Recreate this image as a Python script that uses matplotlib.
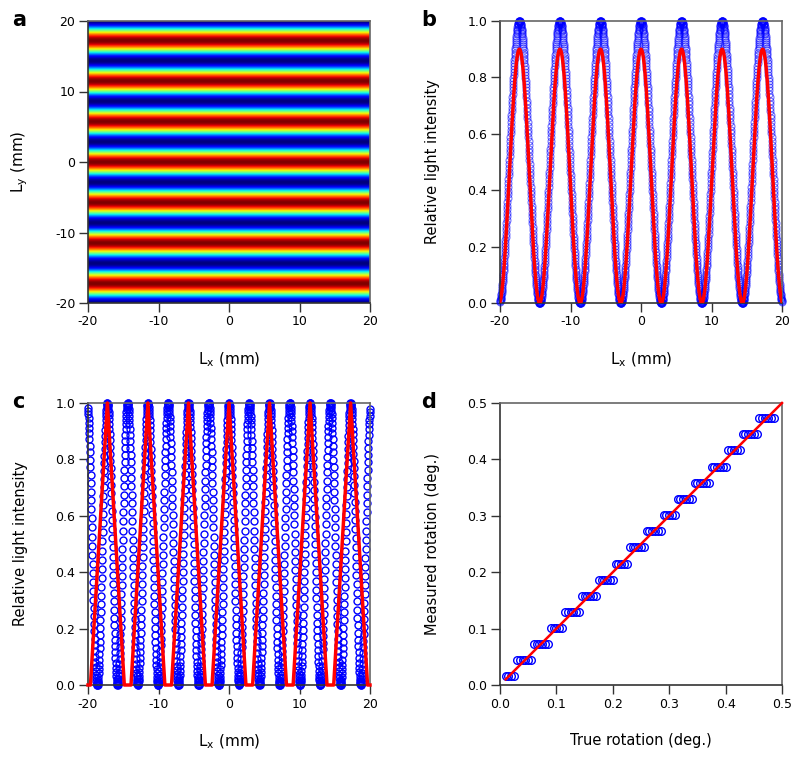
import numpy as np
import matplotlib
matplotlib.use('Agg')
import matplotlib.pyplot as plt

plt.rcParams['font.family'] = ['DejaVu Sans']
plt.rcParams['mathtext.default'] = 'regular'
plt.rcParams['axes.unicode_minus'] = False

# --- values ---
lx_lim = (-20, 20)
fringe_period = 5.75        # mm, bright fringe spacing (panels a, b)
fringe_peaks = [-17.25, -11.5, -5.75, 0.0, 5.75, 11.5, 17.25]
model_peak_b = 0.9          # red model curve maximum in b
sample_period_c = 2.875     # mm, apparent period of the blue samples in c
step_b = 0.025              # sampling step of the blue circles (mm)
step_c = 0.03

# red polyline in c (vertices)
c_red_x = [-20.0, -19.65, -17.25, -14.85, -13.9, -11.5, -9.1, -8.15, -5.75,
           -3.35, -2.4, 0.0, 2.4, 3.35, 5.75, 8.15, 9.1, 11.5, 13.9, 14.85,
           17.25, 19.65, 20.0]
c_red_y = [0, 0, 1, 0, 0, 1, 0, 0, 1, 0, 0, 1, 0, 0, 1, 0, 0, 1, 0, 0, 1, 0, 0]

# panel d: measured rotation is quantised into steps
d_true = np.arange(0.01, 0.4851, 0.005)   # sampling grid of true rotation
d_step_edges = [0.028, 0.057, 0.086, 0.114, 0.143, 0.171, 0.200, 0.229,
                0.257, 0.286, 0.314, 0.343, 0.371, 0.400, 0.429, 0.457]
d_step_levels = [0.0159, 0.0443, 0.0726, 0.1010, 0.1299, 0.1582, 0.1866,
                 0.2149, 0.2444, 0.2727, 0.3011, 0.3300, 0.3583, 0.3867,
                 0.4161, 0.4451, 0.4734]
d_fit_x = [0.01, 0.5]
d_fit_y = [0.01, 0.5]


def fringe(x, period, phase=0.0):
    return np.cos(np.pi * (x - phase) / period) ** 2


def style_axes(ax):
    for side in ['left', 'bottom']:
        ax.spines[side].set_color('#333333')
        ax.spines[side].set_linewidth(1.2)
    for side in ['top', 'right']:
        ax.spines[side].set_color('#666666')
        ax.spines[side].set_linewidth(1.2)
    ax.tick_params(direction='out', length=6.5, width=1, pad=2.5,
                   labelsize=9, top=False, right=False, color='#333333')


fig = plt.figure(figsize=(8, 7.62), dpi=100)
W, H = 800, 762


def add_axes(left, top):
    return fig.add_axes([left / W, 1 - (top + 282) / H, 282 / W, 282 / H])


ax_a = add_axes(88, 21)
ax_b = add_axes(500, 21)
ax_c = add_axes(88, 403)
ax_d = add_axes(500, 403)

# a: fringe image
ly = np.linspace(-20, 20, 800)
img = np.tile(fringe(ly, fringe_period, fringe_peaks[3])[:, None], (1, 20))
ax_a.imshow(img, extent=[-20, 20, -20, 20], origin='lower', cmap='jet',
            aspect='auto', interpolation='bilinear')
ax_a.set_xlim(lx_lim)
ax_a.set_ylim(lx_lim)
ax_a.set_xticks([-20, -10, 0, 10, 20])
ax_a.set_yticks([-20, -10, 0, 10, 20])
ax_a.set_xlabel('L$_x$ (mm)', fontsize=11, labelpad=16)
ax_a.set_ylabel('L$_y$ (mm)', fontsize=11, labelpad=18)

# b: intensity profile
xb = np.arange(-20, 20 + 1e-9, step_b)
ax_b.plot(xb, fringe(xb, fringe_period, fringe_peaks[3]), 'o', mfc='none',
          mec='#0000ff', ms=5, mew=0.8, alpha=0.55, clip_on=False, zorder=2)
xm = np.linspace(-20, 20, 1000)
ax_b.plot(xm, model_peak_b * fringe(xm, fringe_period, fringe_peaks[3]),
          color='#ff0000', lw=2.5, zorder=3)
ax_b.set_xlim(lx_lim)
ax_b.set_ylim(0, 1)
ax_b.set_xticks([-20, -10, 0, 10, 20])
ax_b.set_yticks(np.arange(0, 1.01, 0.2))
ax_b.yaxis.set_major_formatter('{x:.1f}')
ax_b.set_xlabel('L$_x$ (mm)', fontsize=11, labelpad=16)
ax_b.set_ylabel('Relative light intensity', fontsize=10.5, labelpad=20)

# c: undersampled profile
xc = np.arange(-20, 20 + 1e-9, step_c)
ax_c.plot(xc, fringe(xc, sample_period_c, fringe_peaks[3]), 'o', mfc='none',
          mec='#0000ff', ms=5, mew=1, clip_on=False, zorder=2)
ax_c.plot(c_red_x, c_red_y, color='#ff0000', lw=2.5, zorder=3, clip_on=False)
ax_c.set_xlim(lx_lim)
ax_c.set_ylim(0, 1)
ax_c.set_xticks([-20, -10, 0, 10, 20])
ax_c.set_yticks(np.arange(0, 1.01, 0.2))
ax_c.yaxis.set_major_formatter('{x:.1f}')
ax_c.set_xlabel('L$_x$ (mm)', fontsize=11, labelpad=16)
ax_c.set_ylabel('Relative light intensity', fontsize=10.5, labelpad=20)

# d: measured vs true rotation
d_meas = np.array(d_step_levels)[np.searchsorted(d_step_edges, d_true)]
ax_d.plot(d_true, d_meas, 'o', mfc='none', mec='#0000ff', ms=5.5, mew=1,
          zorder=2)
ax_d.plot(d_fit_x, d_fit_y, color='#ff0000', lw=1.8, zorder=3, clip_on=False)
ax_d.set_xlim(0, 0.5)
ax_d.set_ylim(0, 0.5)
ax_d.set_xticks(np.arange(0, 0.51, 0.1))
ax_d.set_yticks(np.arange(0, 0.51, 0.1))
ax_d.xaxis.set_major_formatter('{x:.1f}')
ax_d.yaxis.set_major_formatter('{x:.1f}')
ax_d.set_xlabel('True rotation (deg.)', fontsize=10.5, labelpad=16)
ax_d.set_ylabel('Measured rotation (deg.)', fontsize=10.5, labelpad=20)

for ax in [ax_a, ax_b, ax_c, ax_d]:
    style_axes(ax)

for letter, (px, py) in zip('abcd', [(12, 26), (421, 26), (12, 408), (421, 408)]):
    fig.text(px / W, 1 - py / H, letter, fontsize=15, fontweight='bold',
             ha='left', va='baseline')

fig.savefig('out.png', dpi=100)
